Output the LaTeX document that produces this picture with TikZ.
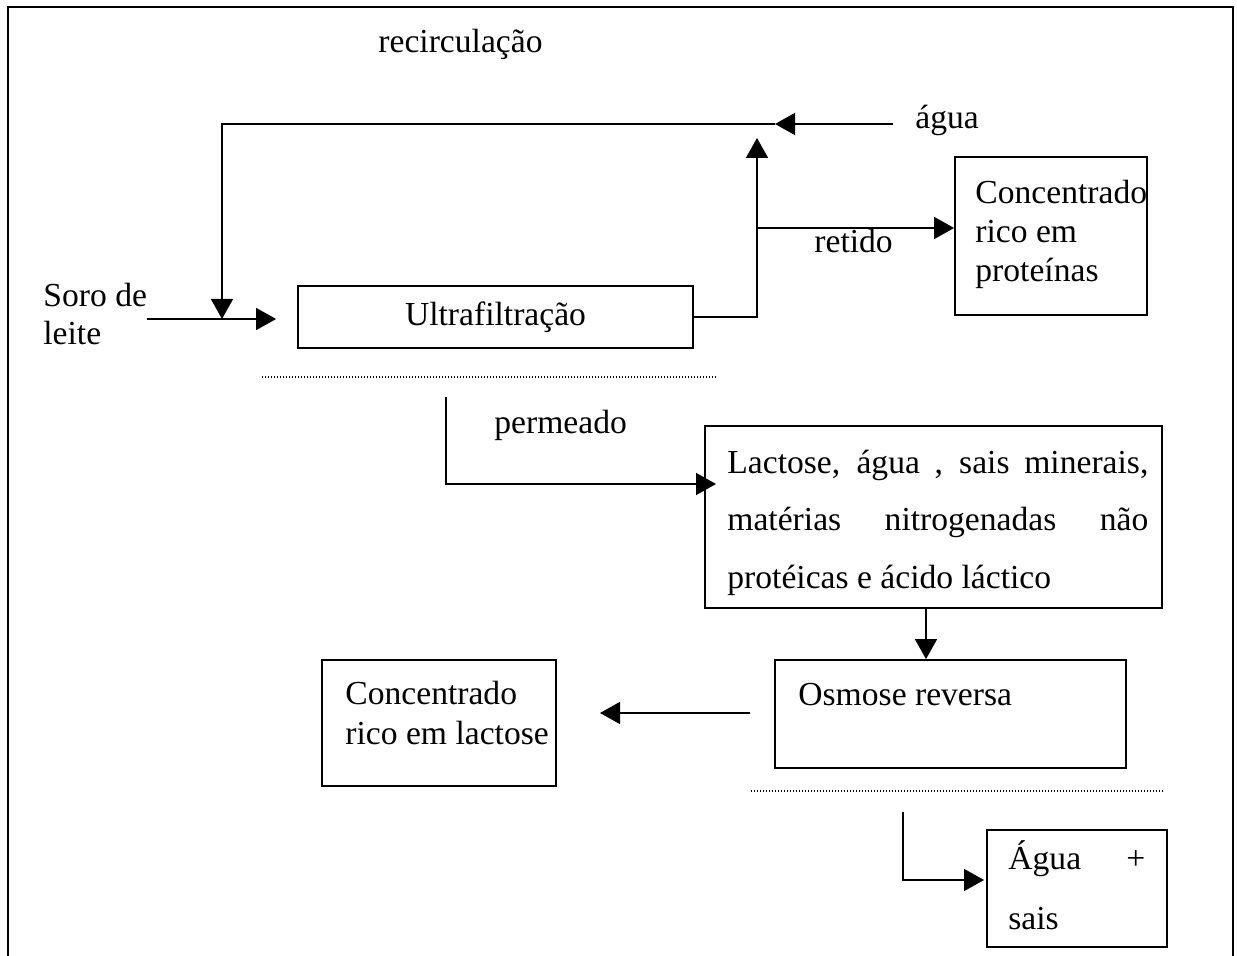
\documentclass[tikz,border=0pt]{standalone}
\usepackage{fontspec}
\setmainfont{Liberation Serif}
\usetikzlibrary{arrows.meta}
\begin{document}
\begin{tikzpicture}[x=0.5pt,y=-0.5pt,
  every node/.style={font=\fontsize{16.8}{19.5}\selectfont, inner sep=0pt},
  box/.style={draw, line width=0.9pt},
  txt/.style={anchor=base west, align=left},
  flow/.style={line width=0.75pt},
  arr/.style={flow, -{Triangle[length=10pt,width=11pt]}},
  sep/.style={line width=0.6pt, dash pattern=on 0.6pt off 0.9pt}]
\useasboundingbox (0,0) rectangle (1237,956);

% outer frame (open at the bottom)
\draw[line width=1pt] (8,960) -- (8,7) -- (1233,7) -- (1233,960);

% process boxes
\node[box, minimum width=197.5pt, minimum height=31pt] (uf) at (495.5,317) {Ultrafiltração};
\node[box, minimum width=96pt, minimum height=79pt] (cp) at (1051,236) {};
\node[box, minimum width=228.5pt, minimum height=91pt] (lac) at (933.5,517) {};
\node[box, minimum width=175.5pt, minimum height=54pt] (osm) at (950.5,714) {};
\node[box, minimum width=117pt, minimum height=63pt] (lc) at (439,723) {};
\node[box, minimum width=90pt, minimum height=58.5pt] (aw) at (1077,888.5) {};

% box texts (multi-line nodes are placed by the baseline of their last line)
\node[txt] (cpT) at (975,282) {Concentrado\\rico em\\proteínas};
\node[txt, font=\fontsize{16.8}{29}\selectfont] (lacT) at (727,589)
  {\makebox[210.5pt][s]{Lactose, água , sais minerais,}\\
   \makebox[210.5pt][s]{matérias nitrogenadas não}\\
   protéicas e ácido láctico};
\node[txt] (osmT) at (798,705) {Osmose reversa};
\node[txt, font=\fontsize{16.8}{20}\selectfont] (lcT) at (345,744) {Concentrado\\rico em lactose};
\node[txt, font=\fontsize{16.8}{30}\selectfont] (awT) at (1008,929) {\makebox[68.5pt][s]{Água +}\\sais};

% free labels
\node[txt] (recT) at (378,53) {recirculação};
\node[txt, font=\fontsize{16.8}{19}\selectfont] (soro) at (43,345) {Soro de\\leite};
\node[txt] (agua) at (915,129) {água};
\node[txt] (retT) at (814,253) {retido};
\node[txt] (permT) at (494,434) {permeado};

% connector points
\coordinate (soroOut) at (147,319);
\coordinate (mix) at (222,319);
\coordinate (rcTop) at (222,124);
\coordinate (join) at (775,124);
\coordinate (waterIn) at (893,124);
\coordinate (recTip) at (757,138);
\coordinate (branch) at (757,228);
\coordinate (permTop) at (446,397);
\coordinate (permEnd) at (716,484);
\coordinate (osmIn) at (926,608);
\coordinate (osmOut) at (750,713);
\coordinate (lcIn) at (600,713);
\coordinate (roTop) at (903,812);
\coordinate (awIn) at (984,880);

% feed and recirculation
\draw[arr, shorten >=10.5pt] (soroOut) -- (uf.west |- soroOut);
\draw[arr] (join) -- (rcTop) -- (mix);
\draw[arr] (waterIn) -- (join);
\draw[arr] (uf.east) -| (recTip);
\draw[arr] (branch) -- (branch -| cp.west);

% permeate line
\draw[sep] (262,377) -- (717,377);
\draw[arr] (permTop) |- (permEnd);
\draw[arr] (osmIn) -- (osmIn |- osm.north);
\draw[arr] (osmOut) -- (lcIn);

% reverse osmosis permeate
\draw[sep] (751,791) -- (1164,791);
\draw[arr] (roTop) |- (awIn);
\end{tikzpicture}
\end{document}
